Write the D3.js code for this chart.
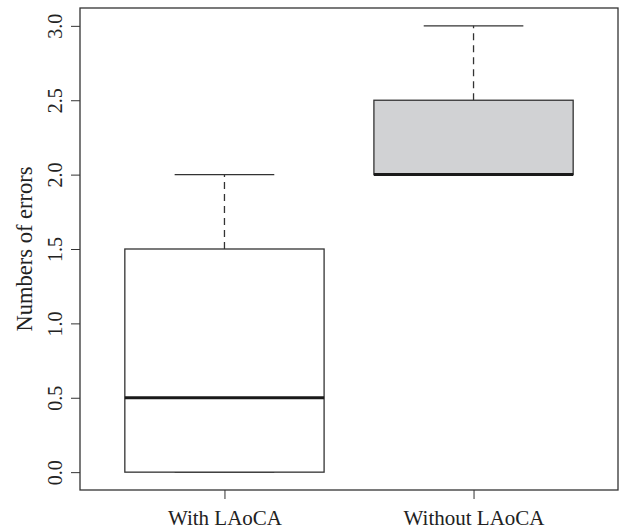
<!DOCTYPE html>
<html>
<head>
<meta charset="utf-8">
<script src="https://cdn.jsdelivr.net/npm/d3@7"></script>
<style>
  body { margin: 0; background: #fff; }
  text { font-family: "Liberation Serif", "DejaVu Serif", serif; fill: #222; }
</style>
</head>
<body>
<div id="chart"></div>
<script>
// box plot data
const groups = ["With LAoCA", "Without LAoCA"];
const lowWhisker = [0, 2];
const q1 = [0, 2];
const median = [0.5, 2];
const q3 = [1.5, 2.5];
const highWhisker = [2, 3];
const yTicks = [0, 0.5, 1, 1.5, 2, 2.5, 3];

const boxFill = ["#ffffff", "#d1d2d4"];
const ink = "#333";

const width = 619, height = 530;
const frame = { left: 80, right: 618, top: 8, bottom: 490 };

var svg = d3.select("#chart")
    .append("svg")
    .attr("width", width)
    .attr("height", height);

// R style: 4% padding both ways
var x = d3.scaleLinear().domain([0.42, 2.58]).range([frame.left, frame.right]);
var y = d3.scaleLinear().domain([-0.12, 3.12]).range([frame.bottom, frame.top]);

// y axis
var yAxis = svg.append("g")
    .attr("transform", `translate(${frame.left},0)`)
    .call(d3.axisLeft(y).tickValues(yTicks).tickFormat(d3.format(".1f")).tickSize(9).tickSizeOuter(0));
yAxis.select(".domain").remove();
yAxis.selectAll("line").attr("stroke", ink);
yAxis.selectAll("text")
    .attr("x", null).attr("dy", null)
    .attr("transform", "translate(-18,0) rotate(-90)")
    .attr("y", 0)
    .attr("text-anchor", "middle")
    .style("font-size", "20px")
    .style("font-family", "Liberation Serif");

// x axis
var xAxis = svg.append("g")
    .attr("transform", `translate(0,${frame.bottom})`)
    .call(d3.axisBottom(x).tickValues([1, 2]).tickFormat((d, i) => groups[i]).tickSize(9).tickSizeOuter(0));
xAxis.select(".domain").remove();
xAxis.selectAll("line").attr("stroke", ink);
xAxis.selectAll("text")
    .attr("y", 35).attr("dy", null)
    .style("font-size", "21px")
    .style("font-family", "Liberation Serif");

// frame
svg.append("rect")
    .attr("x", frame.left).attr("y", frame.top)
    .attr("width", frame.right - frame.left).attr("height", frame.bottom - frame.top)
    .attr("fill", "none").attr("stroke", ink).attr("stroke-width", 1.3);

// y title
svg.append("text")
    .attr("transform", `translate(32,${(frame.top + frame.bottom) / 2}) rotate(-90)`)
    .attr("text-anchor", "middle")
    .style("font-size", "22.5px")
    .text("Numbers of errors");

// boxes
var boxes = svg.append("g").selectAll("g")
    .data(groups)
    .enter()
    .append("g");

var halfBox = 0.4, halfCap = 0.2;

boxes.append("line")
    .attr("x1", (d, i) => x(i + 1)).attr("x2", (d, i) => x(i + 1))
    .attr("y1", (d, i) => y(q3[i])).attr("y2", (d, i) => y(highWhisker[i]))
    .attr("stroke", ink).attr("stroke-width", 1.3).attr("stroke-dasharray", "7,5");
boxes.append("line")
    .attr("x1", (d, i) => x(i + 1)).attr("x2", (d, i) => x(i + 1))
    .attr("y1", (d, i) => y(q1[i])).attr("y2", (d, i) => y(lowWhisker[i]))
    .attr("stroke", ink).attr("stroke-width", 1.3).attr("stroke-dasharray", "7,5");

boxes.append("line")
    .attr("x1", (d, i) => x(i + 1 - halfCap)).attr("x2", (d, i) => x(i + 1 + halfCap))
    .attr("y1", (d, i) => y(highWhisker[i])).attr("y2", (d, i) => y(highWhisker[i]))
    .attr("stroke", ink).attr("stroke-width", 1.3);
boxes.append("line")
    .attr("x1", (d, i) => x(i + 1 - halfCap)).attr("x2", (d, i) => x(i + 1 + halfCap))
    .attr("y1", (d, i) => y(lowWhisker[i])).attr("y2", (d, i) => y(lowWhisker[i]))
    .attr("stroke", ink).attr("stroke-width", 1.3);

boxes.append("rect")
    .attr("x", (d, i) => x(i + 1 - halfBox))
    .attr("width", (d, i) => x(i + 1 + halfBox) - x(i + 1 - halfBox))
    .attr("y", (d, i) => y(q3[i]))
    .attr("height", (d, i) => y(q1[i]) - y(q3[i]))
    .attr("fill", (d, i) => boxFill[i])
    .attr("stroke", ink).attr("stroke-width", 1.3);

boxes.append("line")
    .attr("x1", (d, i) => x(i + 1 - halfBox)).attr("x2", (d, i) => x(i + 1 + halfBox))
    .attr("y1", (d, i) => y(median[i])).attr("y2", (d, i) => y(median[i]))
    .attr("stroke", "#1a1a1a").attr("stroke-width", 3);
</script>
</body>
</html>
